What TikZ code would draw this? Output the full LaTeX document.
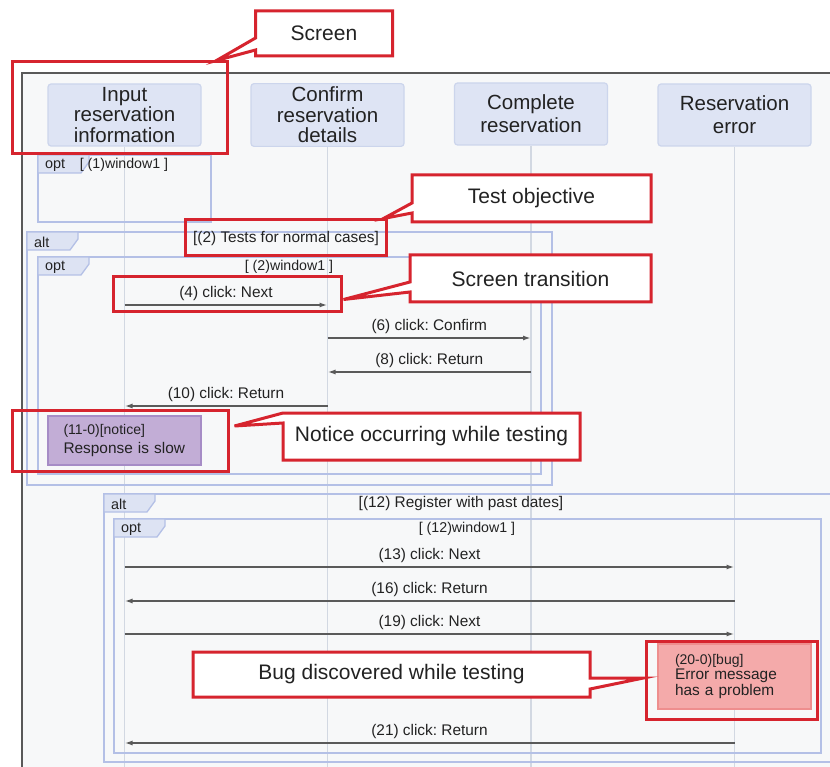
\documentclass[tikz,border=0pt]{standalone}
\usepackage{fontspec}
\setmainfont{Liberation Sans}
\usetikzlibrary{calc,arrows.meta}
\definecolor{redc}{RGB}{214,36,46}
\definecolor{headfill}{RGB}{222,228,244}
\definecolor{headline}{RGB}{204,213,236}
\definecolor{fragline}{RGB}{180,192,230}
\definecolor{tabfill}{RGB}{221,227,243}
\definecolor{lifecol}{RGB}{210,216,226}
\definecolor{canvas}{RGB}{247,248,249}
\definecolor{noticefill}{RGB}{194,173,214}
\definecolor{noticeline}{RGB}{166,140,198}
\definecolor{bugfill}{RGB}{244,170,170}
\definecolor{bugline}{RGB}{238,142,142}
\definecolor{msgcol}{RGB}{90,90,90}
\definecolor{ink}{RGB}{34,34,34}
\pgfdeclarelayer{fg}
\pgfsetlayers{main,fg}
\frenchspacing
\newcommand\fragment[6]{%
  \draw[frag] (#2,#3) rectangle (#4,#5);
  \draw[frag,fill=tabfill] (#2,#3) -- ++(51,0) -- ++(0,7) -- ++(-8,11) -- ++(-43,0) -- cycle;
  \node[tablabel] (#1) at (#2+7,#3+10) {#6};}

\begin{document}
\begin{tikzpicture}[x=1pt,y=-1pt]
\tikzset{head/.style = {draw=headline, fill=headfill, rounded corners=3pt, line width=1.2pt,
           minimum width=153pt, minimum height=62pt, align=center, text=ink,
           font=\fontsize{20.5}{20.5}\selectfont},
         life/.style = {lifecol, line width=1.6pt},
         frag/.style = {fragline, line width=1.3pt},
         tablabel/.style = {anchor=west, inner sep=0pt, text=ink, font=\fontsize{14.4}{16}\selectfont},
         guard/.style = {inner sep=0pt, text=ink, font=\fontsize{14.2}{16}\selectfont},
         altguard/.style = {inner sep=0pt, text=ink, font=\fontsize{15.4}{17}\selectfont},
         msg/.style = {msgcol, line width=1.6pt, -{Latex[length=8pt,width=5pt]}},
         msglabel/.style = {above=2pt, inner sep=2pt, text=ink, font=\fontsize{15.4}{17}\selectfont},
         notebox/.style = {line width=1.3pt, align=left, text=ink, inner sep=0pt,
           font=\fontsize{15.4}{19}\selectfont},
         redbox/.style = {draw=redc, line width=3pt, inner sep=0pt},
         bubtext/.style = {inner sep=0pt, outer sep=0pt, text=ink, font=\fontsize{21}{24}\selectfont},
         bubble/.style = {draw=redc, fill=white, line width=3pt, line join=miter}}
\useasboundingbox (0,0) rectangle (830,767);
\clip (0,0) rectangle (830,767);
\fill[white] (0,0) rectangle (830,767);
\fill[canvas] (22,73) rectangle (830,767);
\draw[black!65, line width=1.2pt] (830,73) -- (22,73) -- (22,767);

\node[head] (hin) at (124.5,115) {Input\\reservation\\information};
\node[head] (hconf) at (327.5,115) {Confirm\\reservation\\details};
\node[head] (hcomp) at (531,114) {Complete\\[2.5pt]reservation};
\node[head] (herr) at (734.5,115) {Reservation\\[2.5pt]error};
\foreach \n in {hin,hconf,hcomp,herr}
  \draw[life] (\n.south) -- (\n.south |- 0,767);

\fragment{opta}{38}{155}{211}{222}{opt}
\node[guard] (gwa) at (124,165) {[ (1)window1 ]};
\fragment{alta}{27}{232}{552}{485}{alt}
\node[altguard] (gnorm) at (286,239) {[(2) Tests for normal cases]};
\fragment{optb}{38}{257}{541}{474}{opt}
\node[guard] (gwb) at (289,267) {[ (2)window1 ]};
\fragment{altb}{104}{494}{845}{762}{alt}
\node[altguard] (gpast) at (461,504) {[(12) Register with past dates]};
\fragment{optc}{114}{519}{821}{753}{opt}
\node[guard] (gwc) at (467,529) {[ (12)window1 ]};

\foreach \k/\y/\a/\b/\t in {4/305/hin/hconf/(4) click: Next,
    6/338/hconf/hcomp/(6) click: Confirm,
    8/372/hcomp/hconf/(8) click: Return,
    10/406/hconf/hin/(10) click: Return,
    13/567/hin/herr/(13) click: Next,
    16/601/herr/hin/(16) click: Return,
    19/634/hin/herr/(19) click: Next,
    21/743/herr/hin/(21) click: Return}{
  \coordinate (s\k) at (\a |- 0,\y);
  \coordinate (e\k) at (\b |- 0,\y);
  \draw[msg] (s\k) -- (e\k) node[msglabel, midway] (l\k) {\t};
}

\node[notebox, fill=noticefill, draw=noticeline, minimum width=153pt, minimum height=49pt,
  text width=122pt] (notice) at (124.5,440.5)
  {{\fontsize{14}{16}\selectfont (11-0)[notice]}\\Response is slow};
\node[notebox, fill=bugfill, draw=bugline, minimum width=153pt, minimum height=65pt,
  text width=119pt, font=\fontsize{15.4}{15.5}\selectfont] (bug) at (734.5,676.5)
  {{\fontsize{14}{16}\selectfont (20-0)[bug]}\\Error message\\has a problem};

\node[redbox, minimum width=215pt, minimum height=92pt] (rin) at (119.5,108) {};
\node[redbox, minimum width=201pt, minimum height=36pt] (rguard) at (285.5,238) {};
\node[redbox, minimum width=228pt, minimum height=35pt] (rmsg) at (227,294.5) {};
\node[redbox, minimum width=216pt, minimum height=61pt] (rnotice) at (120,440.5) {};
\node[redbox, minimum width=171pt, minimum height=78pt] (rbug) at (731.5,680) {};

\begin{pgfonlayer}{fg}
\node[bubtext, minimum width=137pt, minimum height=45pt] (cscr) at (324,33.5) {Screen};
\node[bubtext, minimum width=239pt, minimum height=47pt] (cobj) at (531.5,198.5) {Test objective};
\node[bubtext, minimum width=241pt, minimum height=47pt] (ctrans) at (530.5,278.5) {Screen transition};
\node[bubtext, minimum width=297pt, minimum height=47pt] (cnot) at (431.5,436.5) {Notice occurring while testing};
\node[bubtext, minimum width=397pt, minimum height=45pt] (cbug) at (391.5,674.5) {Bug discovered while testing};
\end{pgfonlayer}

\draw[bubble] (cscr.north west) -- (cscr.north east) -- (cscr.south east) -- (cscr.south west)
  -- ($(cscr.west)+(0,16.5)$) -- ($(rin.north east)+(-12,0)$) -- ($(cscr.west)+(0,4.5)$) -- cycle;
\draw[bubble] (cobj.north west) -- (cobj.north east) -- (cobj.south east) -- (cobj.south west)
  -- ($(cobj.west)+(0,14.5)$) -- ($(rguard.north east)+(-4,0)$) -- ($(cobj.west)+(0,4.5)$) -- cycle;
\draw[bubble] (ctrans.north west) -- (ctrans.north east) -- (ctrans.south east) -- (ctrans.south west)
  -- ($(ctrans.west)+(0,13.5)$) -- ($(rmsg.east)+(1,5)$) -- ($(ctrans.west)+(0,3.5)$) -- cycle;
\draw[bubble] (cnot.north west) -- (cnot.north east) -- (cnot.south east) -- (cnot.south west)
  -- ($(cnot.west)+(0,-13.5)$) -- ($(rnotice.east)+(5,-14.5)$) -- cycle;
\draw[bubble] (cbug.north west) -- (cbug.north east) -- ($(cbug.east)+(0,3.5)$)
  -- ($(rbug.west)+(-1,-2)$) -- ($(cbug.east)+(0,14.5)$) -- (cbug.south east) -- (cbug.south west) -- cycle;
\end{tikzpicture}
\end{document}
